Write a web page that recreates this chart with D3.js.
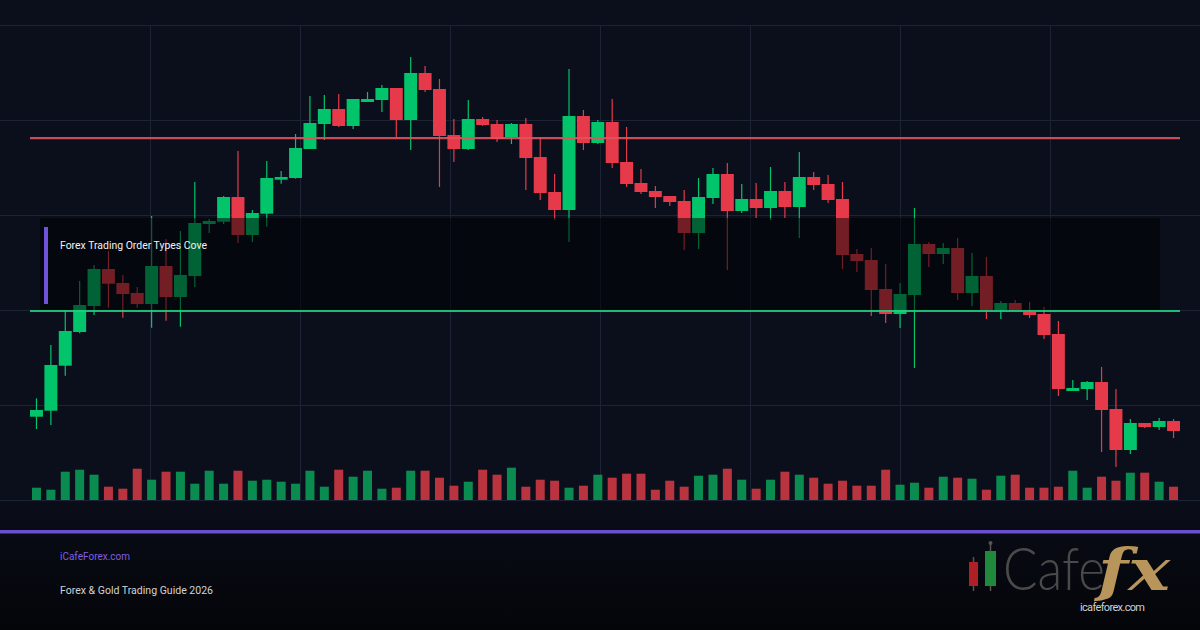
<!DOCTYPE html>
<html>
<head>
<meta charset="utf-8">
<script src="https://cdnjs.cloudflare.com/ajax/libs/d3/7.8.5/d3.min.js"></script>
<style>
html, body { margin: 0; padding: 0; background: #0b0f1c; }
svg { display: block; }
</style>
</head>
<body>
<div id="canvas"></div>
<script>
var width = 1200;
var height = 630;

// candle data (price)
var opens  = [2083.3,2089.3,2134.3,2168,2194,2231,2217,2207,2196,2234,2203,2224,2276,2278.3,2303,2265,2286.3,2320.3,2322,2351,
              2376,2391,2374,2398,2400,2412,2380,2427,2411,2365,2351,2381,2376,2363,2376,2343,2308,2290,2384,2357,
              2378,2338,2317,2309,2304,2299,2267,2302,2326,2289,2301,2292,2309,2293,2323,2316,2301,2246,2240,2211,
              2186,2205,2256,2246,2252,2207,2224,2190,2197,2188,2186,2166,2109,2111,2118,2091,2050,2077,2073,2079];
var highs  = [2101.7,2155,2190,2219,2235,2249,2225,2213,2284,2261,2269,2318,2281,2304,2349,2290,2339,2329,2366,2404,
              2405,2406,2401,2408,2415,2412,2443,2434,2421,2381,2400,2383,2380,2377,2382,2362,2326,2431,2390,2380,
              2401,2373,2331,2314,2304,2310,2322,2332,2337,2316,2317,2333,2318,2348,2328,2325,2318,2251,2252,2236,
              2217,2292,2258,2257,2262,2247,2243,2199,2200,2198,2193,2179,2120,2119,2133,2111,2081,2077,2082,2081];
var lows   = [2071,2075,2124.3,2166.7,2185,2192.3,2182.3,2192.3,2172.3,2179.3,2173.3,2213,2267,2276,2257,2258,2273.3,2316.3,2321.3,2351,
              2360,2373,2371,2398,2388,2363,2350,2408,2313,2338,2350,2374,2358,2356,2310,2300,2280,2258,2350,2356,
              2332,2313,2306,2292,2294,2250,2251,2296,2230,2287,2282,2280,2282,2262,2310,2297,2231,2228,2184,2177,
              2172,2132,2233,2236,2200,2194,2181,2181,2190,2182,2161,2104,2109,2100,2048,2033,2046,2072,2070,2062];
var closes = [2090,2135,2169,2195,2231,2216.3,2206,2196,2234,2203,2225,2277,2279,2303,2265,2287,2322,2323,2352,2377,
              2391,2374,2401,2401,2412,2380,2427,2410,2364,2351,2381,2375,2361,2376,2342,2307,2290,2384,2357,2378,
              2337,2316,2308,2303,2298,2267,2303,2326,2289,2301,2292,2309,2293,2323,2315,2300,2245,2239,2210,2186,
              2206,2256,2246,2252,2207,2224,2190,2197,2190,2185,2165,2111,2112,2118,2090,2050,2077,2073,2079,2069];
var volumes = [1230,1030,2830,3030,2530,1330,1130,3130,2030,2830,2830,1630,2930,1630,2930,1930,2030,1830,1630,2930,
               1330,3030,2330,2930,1130,1230,2930,2930,2230,1430,1830,3030,2530,3230,1330,2030,1930,1230,1430,2530,
               2230,2630,2630,1030,1930,1330,2430,2530,3130,2030,1130,2030,2830,2530,2230,1630,1930,1430,1430,3030,
               1530,1730,1230,2330,2230,2130,1030,2430,2530,1230,1230,1330,2930,1230,2330,1930,2730,2730,1830,1330];
var gridPrices = [2000, 2095, 2190, 2285, 2380, 2475];
var supportLevel = 2189;
var resistanceLevel = 2361.8;

var captionText = "Forex Trading Order Types Cove";
var footerSite = "iCafeForex.com";
var footerTitle = "Forex & Gold Trading Guide 2026";
var logoWord = "Cafe";
var logoFx = "fx";
var logoUrl = "icafeforex.com";

var upColor = "#02c46a";
var downColor = "#e63a4a";
var upVol = "#0a8c50";
var downVol = "#b9343f";

var svg = d3.select("#canvas")
    .append("svg")
    .attr("width", width)
    .attr("height", height)
    .style("font-family", "Roboto, 'Noto Sans', sans-serif");

var defs = svg.append("defs");
var grad = defs.append("linearGradient")
    .attr("id", "foot")
    .attr("x1", 0).attr("y1", 0).attr("x2", 0).attr("y2", 1);
grad.append("stop").attr("offset", "0%").attr("stop-color", "#0a0d18");
grad.append("stop").attr("offset", "100%").attr("stop-color", "#040509");

svg.append("rect")
    .attr("width", width)
    .attr("height", height)
    .attr("fill", "#0b0f1c");

svg.append("rect")
    .attr("y", 502)
    .attr("width", width)
    .attr("height", height - 502)
    .attr("fill", "url(#foot)");

var idx = d3.range(opens.length);

var xScale = d3.scaleBand()
    .domain(idx)
    .range([30, 1180])
    .paddingInner(0.1);

var yScale = d3.scaleLinear()
    .domain([2000, 2475])
    .range([500, 25]);

var volScale = d3.scaleLinear()
    .domain([0, 4000])
    .range([500, 460]);

function cx(i) { return xScale(i) + xScale.bandwidth() / 2; }

// grid
var grid = svg.append("g").attr("stroke", "#1c2335").attr("stroke-width", 1);
grid.selectAll("line.h")
    .data(gridPrices)
    .enter().append("line")
    .attr("x1", 0).attr("x2", width)
    .attr("y1", d => Math.round(yScale(d)) + 0.5)
    .attr("y2", d => Math.round(yScale(d)) + 0.5);
grid.selectAll("line.v")
    .data([150, 300, 450, 600, 750, 900, 1050])
    .enter().append("line")
    .attr("x1", d => d + 0.5).attr("x2", d => d + 0.5)
    .attr("y1", yScale(2475)).attr("y2", yScale(2000));

// volume
var volW = 9;
svg.append("g").selectAll("rect")
    .data(idx)
    .enter().append("rect")
    .attr("x", i => cx(i) - volW / 2)
    .attr("y", i => volScale(volumes[i]))
    .attr("width", volW)
    .attr("height", i => volScale(0) - volScale(volumes[i]))
    .attr("fill", i => closes[i] >= opens[i] ? upVol : downVol);

// candles
var candles = svg.append("g").selectAll("g")
    .data(idx)
    .enter().append("g");

candles.append("line")
    .attr("x1", i => cx(i)).attr("x2", i => cx(i))
    .attr("y1", i => yScale(highs[i]))
    .attr("y2", i => yScale(lows[i]))
    .attr("stroke", i => closes[i] >= opens[i] ? upColor : downColor)
    .attr("stroke-width", 1.2);

candles.append("rect")
    .attr("x", i => xScale(i))
    .attr("y", i => yScale(Math.max(opens[i], closes[i])))
    .attr("width", xScale.bandwidth())
    .attr("height", i => Math.max(1.5, Math.abs(yScale(opens[i]) - yScale(closes[i]))))
    .attr("fill", i => closes[i] >= opens[i] ? upColor : downColor);

// level lines
svg.append("line")
    .attr("x1", 30).attr("x2", 1180)
    .attr("y1", yScale(resistanceLevel)).attr("y2", yScale(resistanceLevel))
    .attr("stroke", "#e0525d")
    .attr("stroke-opacity", 0.9)
    .attr("stroke-width", 2.2);

// caption panel over the chart
svg.append("rect")
    .attr("x", 40).attr("y", 218)
    .attr("width", 1120).attr("height", 92)
    .attr("fill", "#000000")
    .attr("fill-opacity", 0.5);

svg.append("line")
    .attr("x1", 30).attr("x2", 1180)
    .attr("y1", yScale(supportLevel)).attr("y2", yScale(supportLevel))
    .attr("stroke", "#22cc80")
    .attr("stroke-opacity", 0.9)
    .attr("stroke-width", 2);

svg.append("rect")
    .attr("x", 44).attr("y", 227)
    .attr("width", 4).attr("height", 77)
    .attr("fill", "#6e52d8");

svg.append("text")
    .attr("x", 60).attr("y", 249)
    .attr("fill", "#f2f2f2")
    .attr("font-size", 11)
    .attr("textLength", 147)
    .attr("lengthAdjust", "spacingAndGlyphs")
    .text(captionText);

// footer
svg.append("rect")
    .attr("x", 0).attr("y", 530)
    .attr("width", width).attr("height", 3.5)
    .attr("fill", "#6b4fd2");

svg.append("text")
    .attr("x", 60).attr("y", 560)
    .attr("fill", "#7e5fe0")
    .attr("font-size", 11)
    .attr("textLength", 70)
    .attr("lengthAdjust", "spacingAndGlyphs")
    .text(footerSite);

svg.append("text")
    .attr("x", 60).attr("y", 594)
    .attr("fill", "#d2d3d7")
    .attr("font-size", 11)
    .attr("textLength", 153)
    .attr("lengthAdjust", "spacingAndGlyphs")
    .text(footerTitle);

// logo
var logo = svg.append("g");
logo.append("line").attr("x1", 973.5).attr("x2", 973.5).attr("y1", 557).attr("y2", 591)
    .attr("stroke", "#555").attr("stroke-width", 1.5);
logo.append("rect").attr("x", 969).attr("y", 562).attr("width", 9).attr("height", 24).attr("fill", "#b01f26");
logo.append("line").attr("x1", 990.5).attr("x2", 990.5).attr("y1", 543).attr("y2", 591)
    .attr("stroke", "#555").attr("stroke-width", 1.5);
logo.append("circle").attr("cx", 990.5).attr("cy", 543).attr("r", 2).attr("fill", "#555");
logo.append("rect").attr("x", 985).attr("y", 551).attr("width", 11).attr("height", 35).attr("fill", "#1f8a3c");

logo.append("text")
    .attr("x", 1003).attr("y", 590)
    .attr("font-family", "Lato, 'Open Sans', sans-serif")
    .attr("font-weight", 300)
    .attr("font-size", 60)
    .attr("textLength", 102)
    .attr("lengthAdjust", "spacingAndGlyphs")
    .attr("fill", "#4a4a4a")
    .text(logoWord);

logo.append("text")
    .attr("x", 1098).attr("y", 590)
    .attr("font-family", "'DejaVu Serif', 'Liberation Serif', serif")
    .attr("font-style", "italic")
    .attr("font-weight", "bold")
    .attr("font-size", 58)
    .attr("textLength", 72)
    .attr("lengthAdjust", "spacingAndGlyphs")
    .attr("fill", "#b8955a")
    .text(logoFx);

logo.append("text")
    .attr("x", 1080).attr("y", 611)
    .attr("font-size", 11)
    .attr("textLength", 65)
    .attr("fill", "#d0d0d0")
    .text(logoUrl);
</script>
</body>
</html>
